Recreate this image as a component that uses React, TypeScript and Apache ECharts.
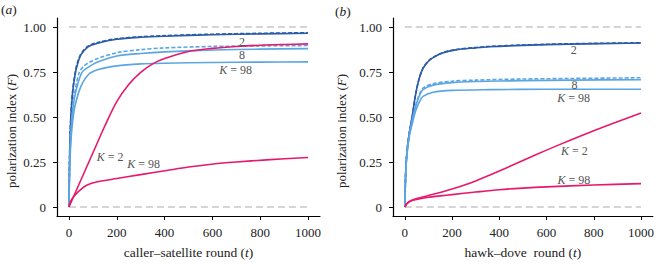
import React, { useEffect, useRef } from "react";
import * as echarts from "echarts";

// ---------- ticks ----------
const xTicks = [0, 200, 400, 600, 800, 1000];
const yTicks = [0, 0.25, 0.5, 0.75, 1];

// ---------- panel (a): caller–satellite ----------
const aK2SolidT = [0, 3, 8, 15, 25, 35, 50, 80, 120, 200, 300, 400, 600, 800, 1000];
const aK2SolidV = [0, 0.3, 0.5, 0.63, 0.73, 0.79, 0.845, 0.89, 0.91, 0.932, 0.943, 0.949, 0.957, 0.962, 0.965];
const aK2DashT = [0, 3, 8, 15, 25, 35, 50, 80, 120, 200, 300, 400, 600, 800, 1000];
const aK2DashV = [0, 0.31, 0.51, 0.64, 0.74, 0.8, 0.85, 0.894, 0.914, 0.935, 0.946, 0.952, 0.96, 0.965, 0.968];
const aK8DashT = [0, 3, 8, 15, 25, 42, 60, 80, 120, 200, 300, 400, 600, 800, 1000];
const aK8DashV = [0, 0.25, 0.42, 0.54, 0.64, 0.745, 0.78, 0.8, 0.825, 0.857, 0.874, 0.884, 0.892, 0.895, 0.897];
const aK8SolidT = [0, 3, 8, 15, 25, 53, 80, 120, 200, 300, 400, 600, 800, 1000];
const aK8SolidV = [0, 0.23, 0.4, 0.52, 0.62, 0.745, 0.776, 0.805, 0.839, 0.853, 0.862, 0.872, 0.877, 0.88];
const aK98BlueT = [0, 3, 8, 15, 25, 50, 81, 120, 200, 300, 400, 600, 800, 1000];
const aK98BlueV = [0, 0.2, 0.36, 0.47, 0.56, 0.67, 0.735, 0.762, 0.784, 0.795, 0.799, 0.803, 0.805, 0.806];
const aK2PinkT = [0, 25, 50, 75, 100, 150, 200, 250, 300, 350, 400, 500, 600, 700, 800, 900, 1000];
const aK2PinkV = [0, 0.075, 0.15, 0.225, 0.3, 0.45, 0.585, 0.68, 0.748, 0.795, 0.825, 0.864, 0.881, 0.892, 0.899, 0.903, 0.906];
const aK98PinkT = [0, 5, 10, 20, 32, 50, 74, 120, 200, 300, 409, 500, 604, 700, 827, 1000];
const aK98PinkV = [0, 0.025, 0.04, 0.058, 0.076, 0.098, 0.121, 0.14, 0.158, 0.18, 0.203, 0.222, 0.239, 0.25, 0.262, 0.275];

// ---------- panel (b): hawk–dove ----------
const bK2SolidT = [0, 4, 10, 20, 31, 45, 60, 77, 100, 120, 160, 216, 300, 356, 500, 700, 1000];
const bK2SolidV = [0, 0.2, 0.32, 0.42, 0.5, 0.62, 0.71, 0.77, 0.81, 0.83, 0.855, 0.873, 0.884, 0.89, 0.898, 0.905, 0.911];
const bK2DashT = [0, 4, 10, 20, 31, 45, 60, 77, 100, 120, 160, 216, 300, 356, 500, 700, 1000];
const bK2DashV = [0, 0.2, 0.32, 0.42, 0.5, 0.62, 0.71, 0.772, 0.812, 0.832, 0.857, 0.875, 0.886, 0.892, 0.9, 0.907, 0.912];
const bK8DashT = [0, 4, 10, 20, 31, 45, 60, 77, 120, 200, 300, 500, 700, 1000];
const bK8DashV = [0, 0.2, 0.31, 0.41, 0.48, 0.56, 0.62, 0.66, 0.685, 0.699, 0.705, 0.711, 0.714, 0.718];
const bK8SolidT = [0, 4, 10, 20, 31, 45, 60, 77, 120, 200, 300, 500, 700, 1000];
const bK8SolidV = [0, 0.2, 0.31, 0.41, 0.48, 0.555, 0.613, 0.652, 0.677, 0.691, 0.697, 0.702, 0.705, 0.707];
const bK98BlueT = [0, 4, 10, 20, 31, 45, 60, 77, 120, 200, 356, 600, 1000];
const bK98BlueV = [0, 0.19, 0.3, 0.4, 0.46, 0.53, 0.58, 0.615, 0.638, 0.648, 0.652, 0.654, 0.654];
const bK2PinkT = [0, 10, 25, 50, 100, 150, 200, 250, 300, 400, 500, 600, 700, 800, 900, 1000];
const bK2PinkV = [0, 0.02, 0.035, 0.047, 0.064, 0.081, 0.1, 0.121, 0.145, 0.2, 0.258, 0.316, 0.371, 0.424, 0.474, 0.522];
const bK98PinkT = [0, 10, 25, 50, 100, 150, 200, 300, 400, 500, 600, 800, 1000];
const bK98PinkV = [0, 0.02, 0.033, 0.042, 0.054, 0.062, 0.069, 0.083, 0.096, 0.105, 0.112, 0.122, 0.13];

// ---------- reference lines ----------
const refT = [0, 1000];
const refTop = [1, 1];
const refBottom = [0, 0];

// ---------- curve labels [t, F, text] ----------
const aLabels: [number, number, string][] = [
  [724, 0.918, "2"],
  [724, 0.842, "8"],
  [697, 0.761, "{i|K} = 98"],
  [172, 0.277, "{i|K} = 2"],
  [312, 0.239, "{i|K} = 98"],
];
const bLabels: [number, number, string][] = [
  [715, 0.875, "2"],
  [718, 0.68, "8"],
  [715, 0.603, "{i|K} = 98"],
  [718, 0.31, "{i|K} = 2"],
  [716, 0.152, "{i|K} = 98"],
];

const DARK = "#2b5ca8";
const LIGHT = "#5ba6e2";
const PINK = "#e6196c";
const REF = "#ababab";
const FONT = "'Liberation Serif', 'DejaVu Serif', serif";

const pair = (t: number[], v: number[]) => t.map((x, i) => [x, v[i]]);

function lineSeries(idx: number, t: number[], v: number[], color: string, dashed: boolean, width = 1.6) {
  return {
    type: "line",
    xAxisIndex: idx,
    yAxisIndex: idx,
    data: pair(t, v),
    showSymbol: false,
    symbol: "none",
    smooth: 0.3,
    lineStyle: { color, width, type: dashed ? [4, 2] : "solid" },
    silent: true,
    z: 3,
  };
}

function refSeries(idx: number, v: number[], labels?: [number, number, string][]) {
  const s: any = {
    type: "line",
    xAxisIndex: idx,
    yAxisIndex: idx,
    data: pair(refT, v),
    showSymbol: false,
    symbol: "none",
    lineStyle: { color: REF, width: 1, type: [7, 4] },
    silent: true,
    z: 1,
  };
  if (labels) {
    s.markPoint = {
      symbol: "circle",
      symbolSize: 1,
      itemStyle: { color: "rgba(0,0,0,0)" },
      silent: true,
      label: {
        show: true,
        position: "inside",
        color: "#555",
        fontFamily: FONT,
        fontSize: 12,
        rich: { i: { fontStyle: "italic", fontFamily: FONT, fontSize: 12, color: "#555" } },
      },
      data: labels.map(([x, y, txt]) => ({ coord: [x, y], label: { formatter: txt } })),
    };
  }
  return s;
}

function xAxis(idx: number, name: string) {
  return {
    type: "value",
    gridIndex: idx,
    min: -50,
    max: 1050,
    axisLine: { show: true, onZero: false, lineStyle: { color: "#000", width: 1.2 } },
    axisTick: { show: true, customValues: xTicks, length: 4, lineStyle: { color: "#000", width: 1 } },
    axisLabel: {
      customValues: xTicks,
      margin: 10,
      fontFamily: FONT,
      fontSize: 13,
      color: "#222",
      formatter: (v: number) => String(Math.round(v)),
    },
    splitLine: { show: false },
    name,
    nameLocation: "middle",
    nameGap: 29,
    nameTextStyle: {
      fontFamily: FONT,
      fontSize: 13.5,
      color: "#222",
      rich: { i: { fontStyle: "italic", fontFamily: FONT, fontSize: 13.5, color: "#222" } },
    },
  };
}

function yAxis(idx: number) {
  return {
    type: "value",
    gridIndex: idx,
    min: -0.05,
    max: 1.05,
    axisLine: { show: true, onZero: false, lineStyle: { color: "#000", width: 1.2 } },
    axisTick: { show: true, customValues: yTicks, length: 4, lineStyle: { color: "#000", width: 1 } },
    axisLabel: {
      customValues: yTicks,
      margin: 11,
      fontFamily: FONT,
      fontSize: 13,
      color: "#222",
      formatter: (v: number) => (Math.abs(v) < 1e-9 ? "0" : v.toFixed(2)),
    },
    splitLine: { show: false },
  };
}

export default function App() {
  const ref = useRef<HTMLDivElement>(null);
  useEffect(() => {
    if (!ref.current) return;
    const chart = echarts.init(ref.current, undefined, { renderer: "svg" });
    const yTitle = (x: number, y: number) => ({
      type: "text",
      x,
      y,
      rotation: Math.PI / 2,
      style: {
        text: "polarization index ({i|F})",
        align: "center",
        verticalAlign: "middle",
        fontFamily: FONT,
        fontSize: 13,
        fill: "#222",
        rich: { i: { fontStyle: "italic", fontFamily: FONT, fontSize: 13, fill: "#222" } },
      },
    });
    const panelTag = (x: number, y: number, letter: string) => ({
      type: "text",
      x,
      y,
      style: {
        text: "({i|" + letter + "})",
        align: "left",
        verticalAlign: "middle",
        fontFamily: FONT,
        fontSize: 13.5,
        fill: "#222",
        rich: { i: { fontStyle: "italic", fontFamily: FONT, fontSize: 13.5, fill: "#222" } },
      },
    });
    chart.setOption({
      animation: false,
      backgroundColor: "#fff",
      grid: [
        { left: 57, top: 18, width: 263, height: 202 },
        { left: 393, top: 18, width: 263, height: 202 },
      ],
      xAxis: [xAxis(0, "caller–satellite round ({i|t})"), xAxis(1, "hawk–dove  round ({i|t})")],
      yAxis: [yAxis(0), yAxis(1)],
      graphic: [yTitle(11, 131), yTitle(341, 131), panelTag(1, 9, "a"), panelTag(335, 11, "b")],
      series: [
        refSeries(0, refTop, aLabels),
        refSeries(0, refBottom),
        lineSeries(0, aK2SolidT, aK2SolidV, DARK, false),
        lineSeries(0, aK2DashT, aK2DashV, DARK, true),
        lineSeries(0, aK8DashT, aK8DashV, LIGHT, true),
        lineSeries(0, aK8SolidT, aK8SolidV, LIGHT, false),
        lineSeries(0, aK98BlueT, aK98BlueV, LIGHT, false),
        lineSeries(0, aK2PinkT, aK2PinkV, PINK, false),
        lineSeries(0, aK98PinkT, aK98PinkV, PINK, false),
        refSeries(1, refTop, bLabels),
        refSeries(1, refBottom),
        lineSeries(1, bK2SolidT, bK2SolidV, DARK, false),
        lineSeries(1, bK2DashT, bK2DashV, DARK, true),
        lineSeries(1, bK8DashT, bK8DashV, LIGHT, true),
        lineSeries(1, bK8SolidT, bK8SolidV, LIGHT, false),
        lineSeries(1, bK98BlueT, bK98BlueV, LIGHT, false),
        lineSeries(1, bK2PinkT, bK2PinkV, PINK, false),
        lineSeries(1, bK98PinkT, bK98PinkV, PINK, false),
      ],
    });
    return () => chart.dispose();
  }, []);
  return (
    <div
      ref={ref}
      style={{ position: "fixed", left: 0, top: 0, width: 657, height: 264, background: "#fff" }}
    />
  );
}
